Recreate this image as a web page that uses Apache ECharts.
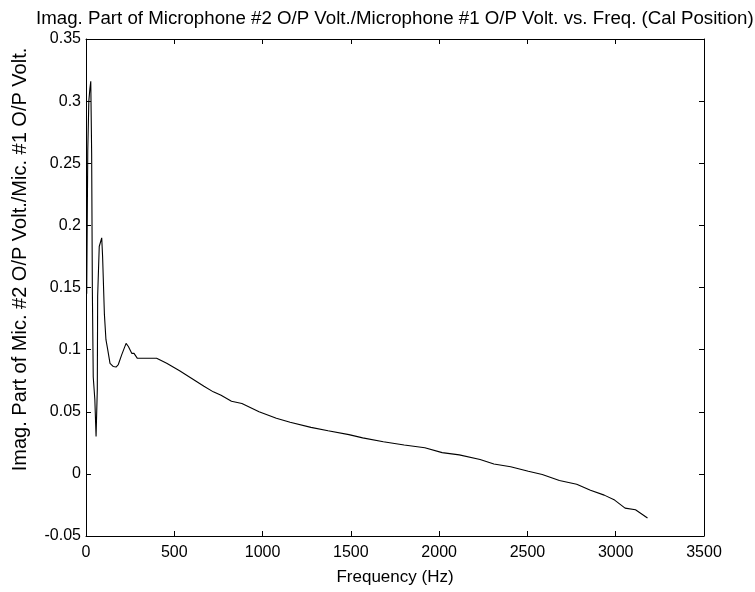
<!DOCTYPE html>
<html>
<head>
<meta charset="utf-8">
<script src="https://cdn.jsdelivr.net/npm/echarts@6/dist/echarts.min.js"></script>
<style>html,body{margin:0;padding:0;background:#fff}#c{width:755px;height:592px}</style>
</head>
<body>
<div id="c"></div>
<script>
const titleText = "Imag. Part of Microphone #2 O/P Volt./Microphone #1 O/P Volt. vs. Freq. (Cal Position)";
const xName = "Frequency (Hz)";
const yName = "Imag. Part of Mic. #2 O/P Volt./Mic. #1 O/P Volt.";
const xTicks = [0, 500, 1000, 1500, 2000, 2500, 3000, 3500];
const yTicks = [-0.05, 0, 0.05, 0.1, 0.15, 0.2, 0.25, 0.3, 0.35];
const freq = [4, 10, 16, 22, 27, 32, 36, 41, 50, 57, 64, 66, 75, 89, 94, 104, 113, 123, 136, 155, 170, 183, 202, 227, 240, 259, 272, 291, 340, 400, 457, 530, 608, 668, 721, 765, 824, 883, 980, 1078, 1156, 1274, 1371, 1489, 1567, 1684, 1802, 1919, 2017, 2114, 2232, 2310, 2405, 2505, 2584, 2681, 2779, 2857, 2935, 2994, 3053, 3112, 3180];
const imagRatio = [0.145, 0.26, 0.30, 0.31, 0.316, 0.258, 0.148, 0.078, 0.06, 0.030, 0.068, 0.143, 0.183, 0.190, 0.175, 0.129, 0.108, 0.100, 0.089, 0.0864, 0.086, 0.088, 0.0958, 0.105, 0.1025, 0.097, 0.097, 0.093, 0.093, 0.093, 0.089, 0.083, 0.076, 0.0705, 0.066, 0.0632, 0.0584, 0.0566, 0.050, 0.0447, 0.0416, 0.0374, 0.0347, 0.0316, 0.029, 0.0258, 0.0232, 0.021, 0.0171, 0.0153, 0.0116, 0.0079, 0.0058, 0.0021, -0.0005, -0.0053, -0.0084, -0.0132, -0.0171, -0.0211, -0.0276, -0.0289, -0.0355];

const font = "Liberation Sans, Arial, sans-serif";
const chart = echarts.init(document.getElementById('c'));
const axLine = {show: true, onZero: false, lineStyle: {color: '#000', width: 1}};
const tick = {show: true, inside: true, length: 5, lineStyle: {color: '#000'}};
chart.setOption({
  animation: false,
  backgroundColor: '#fff',
  title: {text: titleText, left: 31, top: 4, textStyle: {fontFamily: font, fontSize: 18.7, fontWeight: 'normal', color: '#000'}},
  grid: {left: 86, top: 39, right: 51, bottom: 56},
  xAxis: [{
    type: 'value', min: 0, max: 3500, interval: 500,
    name: xName, nameLocation: 'middle', nameGap: 33,
    nameTextStyle: {fontFamily: font, fontSize: 17, color: '#000'},
    axisLine: axLine, axisTick: tick, splitLine: {show: false},
    axisLabel: {fontFamily: font, fontSize: 16, color: '#000', margin: 9, formatter: v => xTicks.includes(v) ? String(v) : ''}
  }, {
    type: 'value', position: 'top', min: 0, max: 3500, interval: 500,
    axisLine: axLine, axisTick: tick, axisLabel: {show: false}, splitLine: {show: false}
  }],
  yAxis: [{
    type: 'value', min: -0.05, max: 0.35, interval: 0.05,
    name: yName, nameLocation: 'middle', nameGap: 56,
    nameTextStyle: {fontFamily: font, fontSize: 20, color: '#000', padding: [0, 0, 0, 56]},
    axisLine: axLine, axisTick: tick, splitLine: {show: false},
    axisLabel: {fontFamily: font, fontSize: 16, color: '#000', margin: 5,
      formatter: v => { const t = yTicks.find(k => Math.abs(k - v) < 1e-9); return t === undefined ? '' : String(Math.round(t * 100) / 100); }}
  }, {
    type: 'value', position: 'right', min: -0.05, max: 0.35, interval: 0.05,
    axisLine: axLine, axisTick: tick, axisLabel: {show: false}, splitLine: {show: false}
  }],
  series: [{
    type: 'line', xAxisIndex: 0, yAxisIndex: 0,
    data: freq.map((f, i) => [f, imagRatio[i]]),
    showSymbol: false, smooth: false,
    lineStyle: {color: '#000', width: 1.1}
  }]
});
</script>
</body>
</html>
